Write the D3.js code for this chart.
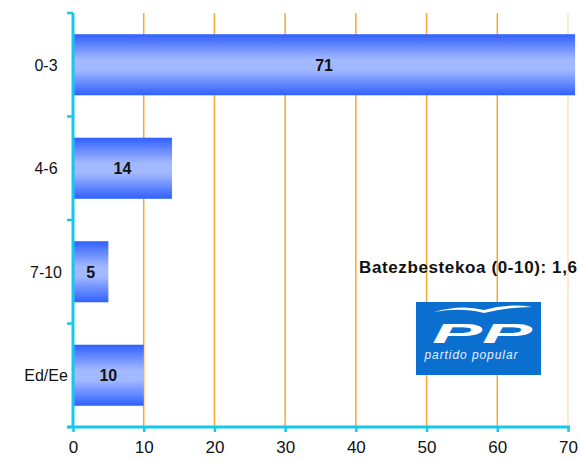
<!DOCTYPE html>
<html>
<head>
<meta charset="utf-8">
<script src="https://cdn.jsdelivr.net/npm/d3@7"></script>
<style>
  body { margin: 0; background: #fff; }
  text { font-family: Arial, "Liberation Sans", sans-serif; }
</style>
</head>
<body>
<script>
// data
var categories = ["0-3", "4-6", "7-10", "Ed/Ee"];
var values = [71, 14, 5, 10];
var xTicks = [0, 10, 20, 30, 40, 50, 60, 70];
var note = "Batezbestekoa (0-10): 1,6";

var width = 580, height = 461;
var mLeft = 73, mRight = 568, mTop = 13, mBottom = 427;

var svg = d3.select("body").append("svg")
  .attr("width", width)
  .attr("height", height);

var defs = svg.append("defs");
var grad = defs.append("linearGradient")
  .attr("id", "barGrad")
  .attr("x1", 0).attr("y1", 0).attr("x2", 0).attr("y2", 1);
grad.append("stop").attr("offset", "0%").attr("stop-color", "#3060ff");
grad.append("stop").attr("offset", "42%").attr("stop-color", "#a3b9ff");
grad.append("stop").attr("offset", "58%").attr("stop-color", "#a3b9ff");
grad.append("stop").attr("offset", "100%").attr("stop-color", "#3060ff");

var x = d3.scaleLinear().domain([0, 70]).range([mLeft, mRight]);
var y = d3.scaleBand().domain(categories).range([mTop, mBottom]).paddingInner(0.41).paddingOuter(0.205);
var yBand = d3.scaleBand().domain(categories).range([mTop, mBottom]);

// grid lines
svg.append("g").selectAll("line")
  .data(xTicks.slice(1))
  .enter().append("line")
  .attr("x1", d => x(d)).attr("x2", d => x(d))
  .attr("y1", mTop).attr("y2", mBottom)
  .attr("stroke", d => d == 70 ? "#fde3c0" : "#f5a733")
  .attr("stroke-width", 1.5);

// bars
svg.append("g").selectAll("rect")
  .data(values)
  .enter().append("rect")
  .attr("x", x(0))
  .attr("y", (d, i) => y(categories[i]))
  .attr("width", d => Math.min(x(d), width) - x(0))
  .attr("height", y.bandwidth())
  .attr("fill", "url(#barGrad)");

svg.append("g").selectAll("text")
  .data(values)
  .enter().append("text")
  .attr("x", d => (x(0) + Math.min(x(d), width)) / 2)
  .attr("y", (d, i) => y(categories[i]) + y.bandwidth() / 2 + 6)
  .attr("text-anchor", "middle")
  .style("font-size", "16px")
  .attr("font-weight", "bold")
  .attr("fill", "#111")
  .text(d => d);

// axes
var axisColor = "#14c8f0";
var gx = svg.append("g").attr("transform", "translate(0," + mBottom + ")")
  .call(d3.axisBottom(x).tickValues(xTicks).tickSize(5).tickPadding(9));
gx.select(".domain").attr("stroke", axisColor).attr("stroke-width", 3)
  .attr("d", "M" + (mLeft - 6) + ",0H" + (mRight + 2));
gx.selectAll(".tick line").attr("stroke", axisColor).attr("stroke-width", 2.5);
gx.selectAll(".tick text").style("font-size", "17px").attr("fill", "#111");

var gy = svg.append("g").attr("transform", "translate(" + mLeft + ",0)");
gy.append("line")
  .attr("x1", 0).attr("x2", 0).attr("y1", mTop).attr("y2", mBottom)
  .attr("stroke", axisColor).attr("stroke-width", 3);
var yTickPos = categories.map(c => yBand(c)).concat([mBottom]);
gy.selectAll(".yt").data(yTickPos).enter().append("line")
  .attr("class", "yt")
  .attr("x1", -6).attr("x2", 0)
  .attr("y1", d => d).attr("y2", d => d)
  .attr("stroke", axisColor).attr("stroke-width", 2.5);
gy.selectAll(".yl").data(categories).enter().append("text")
  .attr("class", "yl")
  .attr("x", -27)
  .attr("y", d => yBand(d) + yBand.bandwidth() / 2 + 6)
  .attr("text-anchor", "middle")
  .style("font-size", "16px")
  .attr("fill", "#111")
  .text(d => d);

// note
svg.append("text")
  .attr("x", 577).attr("y", 273)
  .attr("text-anchor", "end")
  .style("font-size", "17px")
  .attr("font-weight", "bold")
  .attr("textLength", 218)
  .attr("lengthAdjust", "spacing")
  .attr("fill", "#111")
  .text(note);

// logo
var logo = svg.append("g").attr("transform", "translate(416,302)");
logo.append("rect").attr("width", 125).attr("height", 73).attr("fill", "#0b6fd0");
logo.append("path")
  .attr("d", "M18,10 Q45,2 68,8 Q92,1 116,5 Q92,5 68,11 Q45,5 18,10 Z")
  .attr("fill", "#ffffff");
logo.append("text")
  .attr("x", 66).attr("y", 41)
  .attr("text-anchor", "middle")
  .style("font-size", "28px")
  .attr("font-weight", "bold")
  .attr("font-style", "italic")
  .attr("textLength", 100)
  .attr("lengthAdjust", "spacingAndGlyphs")
  .attr("fill", "#fff")
  .text("PP");
logo.append("text")
  .attr("x", 55).attr("y", 57)
  .attr("text-anchor", "middle")
  .style("font-size", "12px")
  .attr("font-style", "italic")
  .attr("textLength", 93)
  .attr("fill", "#e8f0ff")
  .text("partido  popular");
</script>
</body>
</html>
